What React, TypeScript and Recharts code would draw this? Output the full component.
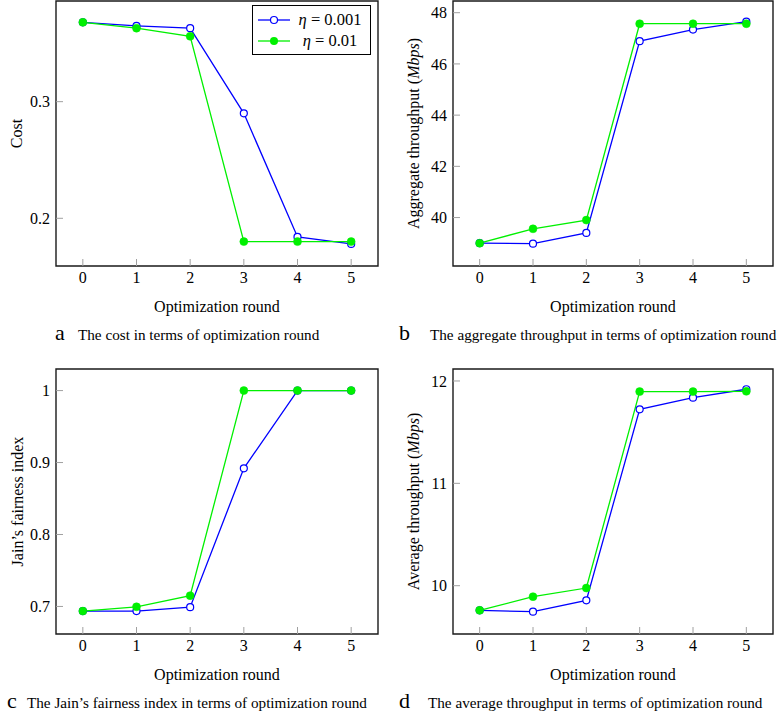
import React from "react";
import {
  LineChart,
  Line,
  XAxis,
  YAxis,
  Legend,
  Label,
  ReferenceArea,
} from "recharts";

const FONT = '"Liberation Serif", "Times New Roman", serif';
const BLUE = "#0000ff";
const GREEN = "#00f000";
const TICK_GRAY = "#a0a0a0";

// optimization rounds (x axis)
const rounds = [0, 1, 2, 3, 4, 5];

// eta = 0.001 (blue) / eta = 0.01 (green)
const costSmall = [0.368, 0.365, 0.363, 0.29, 0.184, 0.178];
const costLarge = [0.368, 0.363, 0.356, 0.18, 0.18, 0.18];

const aggSmall = [39.0, 38.98, 39.4, 46.89, 47.34, 47.65];
const aggLarge = [39.0, 39.56, 39.9, 47.57, 47.57, 47.57];

const jainSmall = [0.6935, 0.6935, 0.699, 0.892, 1.0, 1.0];
const jainLarge = [0.6935, 0.6995, 0.715, 1.0, 1.0, 1.0];

const avgSmall = [9.759, 9.746, 9.857, 11.723, 11.837, 11.919];
const avgLarge = [9.759, 9.893, 9.977, 11.896, 11.896, 11.899];

// tick labels
const costTicks = [0.2, 0.3];
const aggTicks = [40, 42, 44, 46, 48];
const jainTicks = [0.7, 0.8, 0.9, 1];
const avgTicks = [10, 11, 12];

const buildRows = (small: number[], large: number[]) =>
  rounds.map((r, i) => ({ round: r, small: small[i], large: large[i] }));

const XTick = (props: any) => {
  const { x, y, payload } = props;
  return (
    <g>
      <line x1={x} x2={x} y1={y - 6} y2={y - 13} stroke={TICK_GRAY} strokeWidth={1} />
      <text x={x} y={y} dy="0.71em" textAnchor="middle" fontSize={16} fontFamily={FONT} fill="#000">
        {payload.value}
      </text>
    </g>
  );
};

const YTick = (props: any) => {
  const { x, y, payload } = props;
  return (
    <g>
      <line x1={x + 6} x2={x + 13} y1={y} y2={y} stroke={TICK_GRAY} strokeWidth={1} />
      <text x={x} y={y} dy="0.355em" textAnchor="end" fontSize={16} fontFamily={FONT} fill="#000">
        {payload.value}
      </text>
    </g>
  );
};

const LegendBox = () => (
  <div
    style={{
      border: "1.3px solid #000",
      background: "#fff",
      width: 119,
      height: 50,
      boxSizing: "border-box",
      paddingTop: 3,
      fontFamily: FONT,
      fontSize: 16.5,
    }}
  >
    {[
      { label: "0.001", color: BLUE, open: true },
      { label: "0.01", color: GREEN, open: false },
    ].map((it) => (
      <div key={it.label} style={{ display: "flex", alignItems: "center", height: 21.5 }}>
        <svg width={40} height={12} style={{ marginLeft: 5 }}>
          <line x1={0} x2={32} y1={6} y2={6} stroke={it.color} strokeWidth={1.3} />
          {it.open ? (
            <circle cx={16} cy={6} r={3.5} fill="#fff" stroke={it.color} strokeWidth={1.2} />
          ) : (
            <circle cx={16} cy={6} r={4} fill={it.color} />
          )}
        </svg>
        <span style={{ flex: 1, textAlign: "center", marginLeft: -8 }}>
          <i>η</i> = {it.label}
        </span>
      </div>
    ))}
  </div>
);

interface PanelProps {
  left: number;
  top: number;
  width: number;
  yWidth: number;
  rightGap: number;
  small: number[];
  large: number[];
  domain: [number, number];
  ticks: number[];
  yLabel: string;
  yUnit?: string;
  yLabelX: number;
  showLegend?: boolean;
}

const Panel = ({
  left,
  top,
  width,
  yWidth,
  rightGap,
  small,
  large,
  domain,
  ticks,
  yLabel,
  yUnit,
  yLabelX,
  showLegend,
}: PanelProps) => {
  const rows = buildRows(small, large);
  return (
    <div style={{ position: "absolute", left, top }}>
      <LineChart
        width={width}
        height={320}
        data={rows}
        margin={{ top: 1, right: rightGap, left: 0, bottom: 0 }}
      >
        <XAxis
          dataKey="round"
          type="number"
          domain={[-0.5, 5.5]}
          ticks={rounds}
          height={54}
          axisLine={false}
          tickLine={false}
          tickSize={0}
          tickMargin={6}
          tick={<XTick />}
          label={
            <Label
              content={(p: any) => {
                const vb = p.viewBox;
                return (
                  <text
                    x={vb.x + vb.width / 2}
                    y={vb.y + 40}
                    dy="0.35em"
                    textAnchor="middle"
                    fontSize={16}
                    fontFamily={FONT}
                  >
                    Optimization round
                  </text>
                );
              }}
            />
          }
        />
        <YAxis
          type="number"
          domain={domain}
          ticks={ticks}
          allowDataOverflow
          width={yWidth}
          axisLine={false}
          tickLine={false}
          tickSize={0}
          tickMargin={6}
          tick={<YTick />}
          label={
            <Label
              content={(p: any) => {
                const vb = p.viewBox;
                const cx = yLabelX;
                const cy = vb.y + vb.height / 2;
                return (
                  <text
                    x={cx}
                    y={cy}
                    transform={`rotate(-90 ${cx} ${cy})`}
                    dy="0.35em"
                    textAnchor="middle"
                    fontSize={16}
                    fontFamily={FONT}
                  >
                    {yLabel}
                    {yUnit ? (
                      <>
                        {" ("}
                        <tspan fontStyle="italic">{yUnit}</tspan>
                        {")"}
                      </>
                    ) : null}
                  </text>
                );
              }}
            />
          }
        />
        <Line
          dataKey="small"
          stroke={BLUE}
          strokeWidth={1.3}
          dot={{ r: 3.5, fill: "#fff", stroke: BLUE, strokeWidth: 1.2 }}
          activeDot={false}
          isAnimationActive={false}
        />
        <Line
          dataKey="large"
          stroke={GREEN}
          strokeWidth={1.3}
          dot={{ r: 4, fill: GREEN, stroke: GREEN, strokeWidth: 0.5 }}
          activeDot={false}
          isAnimationActive={false}
        />
        <ReferenceArea
          x1={-0.5}
          x2={5.5}
          y1={domain[0]}
          y2={domain[1]}
          fill="none"
          stroke="#1a1a1a"
          strokeWidth={1.4}
          ifOverflow="visible"
        />
        {showLegend && (
          <Legend
            layout="horizontal"
            verticalAlign="middle"
            align="center"
            wrapperStyle={{ left: 252, top: 5, width: 119, height: 50 }}
            content={() => <LegendBox />}
          />
        )}
      </LineChart>
    </div>
  );
};

const Caption = ({ left, top, letter, text, gap }: { left: number; top: number; letter: string; text: string; gap: number }) => (
  <div
    style={{
      position: "absolute",
      left,
      top,
      display: "flex",
      alignItems: "center",
      fontFamily: FONT,
      whiteSpace: "nowrap",
      height: 24,
    }}
  >
    <span style={{ fontSize: 22, width: gap, lineHeight: "24px", marginTop: -4 }}>{letter}</span>
    <span style={{ fontSize: 15.2, lineHeight: "24px" }}>{text}</span>
  </div>
);

export default function App() {
  return (
    <div
      style={{
        position: "absolute",
        left: 0,
        top: 0,
        width: 778,
        height: 713,
        background: "#fff",
        overflow: "hidden",
      }}
    >
      <Panel
        left={0}
        top={0}
        width={390}
        yWidth={56}
        rightGap={12}
        small={costSmall}
        large={costLarge}
        domain={[0.1591, 0.3863]}
        ticks={costTicks}
        yLabel="Cost"
        yLabelX={16}
        showLegend
      />
      <Panel
        left={390}
        top={0}
        width={388}
        yWidth={63}
        rightGap={5}
        small={aggSmall}
        large={aggLarge}
        domain={[38.108, 48.457]}
        ticks={aggTicks}
        yLabel="Aggregate throughput"
        yUnit="Mbps"
        yLabelX={23.5}
      />
      <Panel
        left={0}
        top={368}
        width={390}
        yWidth={56}
        rightGap={12}
        small={jainSmall}
        large={jainLarge}
        domain={[0.6617, 1.03]}
        ticks={jainTicks}
        yLabel="Jain’s fairness index"
        yLabelX={17}
      />
      <Panel
        left={390}
        top={368}
        width={388}
        yWidth={63}
        rightGap={5}
        small={avgSmall}
        large={avgLarge}
        domain={[9.528, 12.117]}
        ticks={avgTicks}
        yLabel="Average throughput"
        yUnit="Mbps"
        yLabelX={23.5}
      />
      <Caption left={55} top={323} letter="a" text="The cost in terms of optimization round" gap={23} />
      <Caption left={399} top={323} letter="b" text="The aggregate throughput in terms of optimization round" gap={31} />
      <Caption left={7} top={691} letter="c" text="The Jain’s fairness index in terms of optimization round" gap={20} />
      <Caption left={399} top={691} letter="d" text="The average throughput in terms of optimization round" gap={29} />
    </div>
  );
}
